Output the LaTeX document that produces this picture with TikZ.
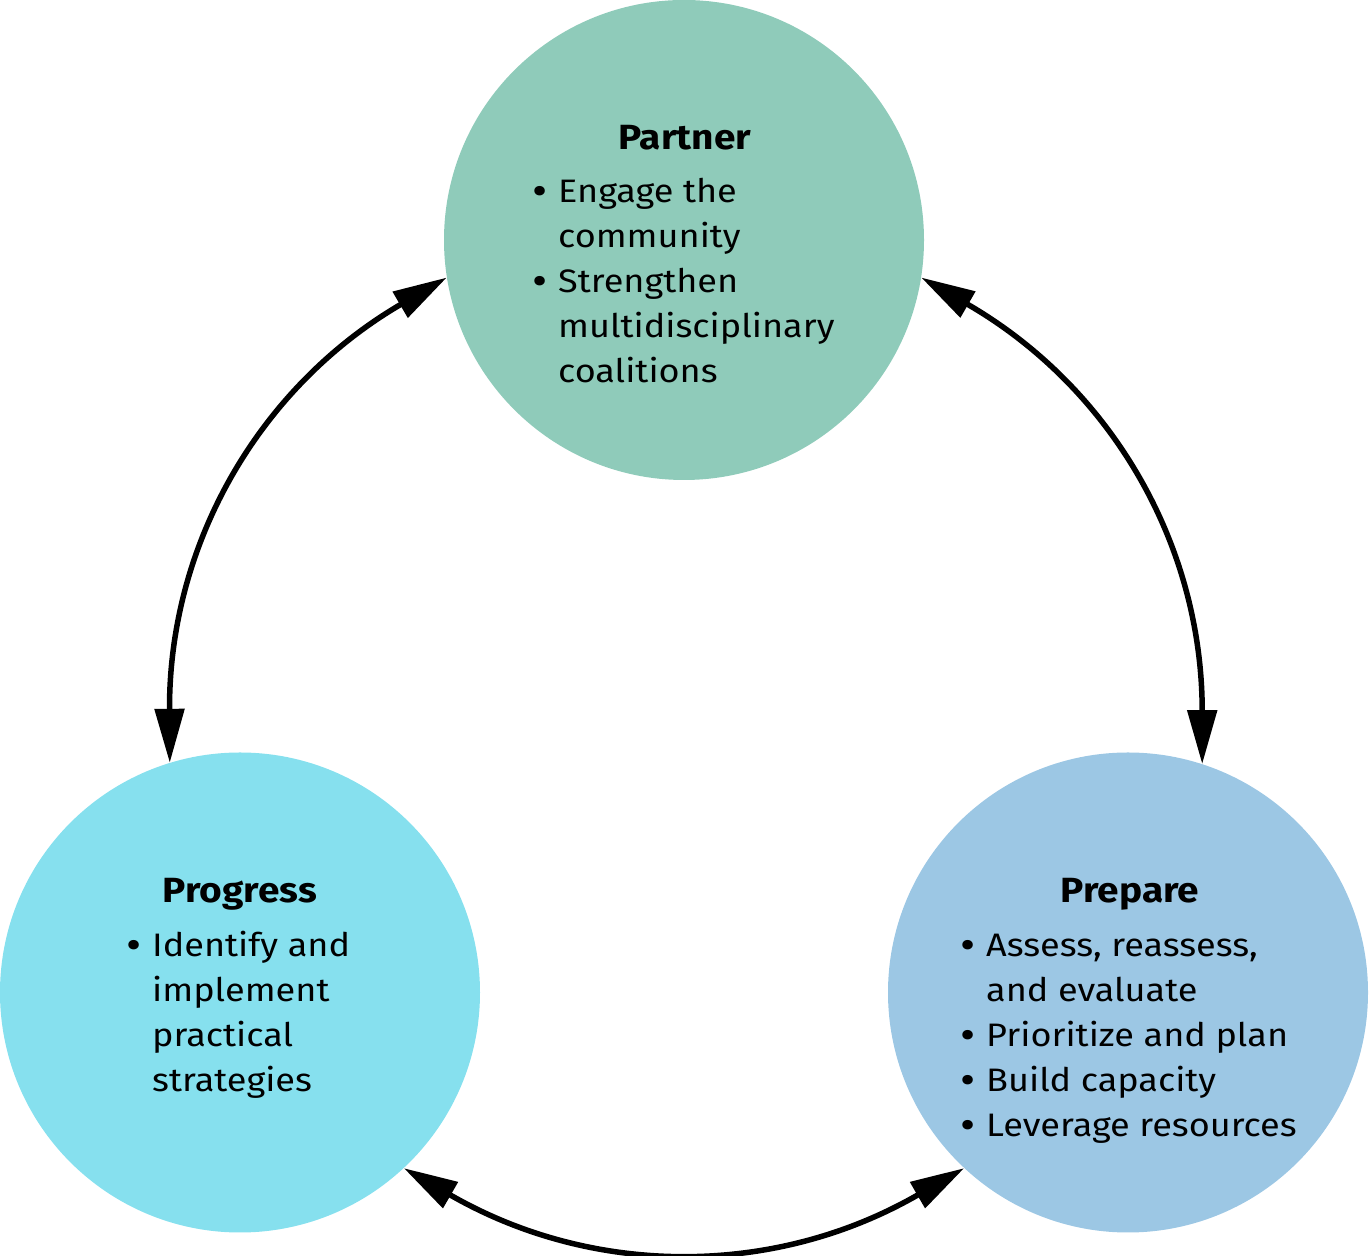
\documentclass[tikz,border=0pt]{standalone}
\usepackage{fontspec}
\setmainfont{Fira Sans}[FakeStretch=1.11]
\usetikzlibrary{arrows.meta}
\definecolor{cpartner}{RGB}{143,203,186}
\definecolor{cprogress}{RGB}{134,224,238}
\definecolor{cprepare}{RGB}{156,199,228}
\newcommand\bulitem{\makebox[36pt]{\fontsize{42}{45}\selectfont\raisebox{-2.5pt}{•}}}
\begin{document}
\begin{tikzpicture}[x=1pt,y=1pt,
  stage/.style={circle, minimum size=480pt, inner sep=0pt, draw=none},
  ttl/.style={anchor=base, inner sep=0pt, font=\fontsize{35}{42}\selectfont\bfseries},
  lst/.style={anchor=base west, inner sep=0pt, font=\fontsize{32.5}{45}\selectfont},
  link/.style={{Triangle[length=54pt,width=29pt]}-{Triangle[length=54pt,width=29pt]}, line width=5.5pt, bend right=30}
]
\useasboundingbox (0,0) rectangle (1369,1256);
\node[stage, fill=cpartner] (partner) at (684,1016) {};
\node[stage, fill=cprogress] (progress) at (240,263.5) {};
\node[stage, fill=cprepare] (prepare) at (1128,263.5) {};

\node[ttl] (partnerT) at (685,1106) {Partner};
\node[ttl] (progressT) at (240,353) {Progress};
\node[ttl] (prepareT) at (1130,353) {Prepare};

\node[lst] (partnerL) at (522,1053) {\begin{tabular}[t]{@{}l@{}l@{}}
\bulitem & Engage the\\
 & community\\
\bulitem & Strengthen\\
 & multidisciplinary\\
 & coalitions
\end{tabular}};
\node[lst] (progressL) at (116,299) {\begin{tabular}[t]{@{}l@{}l@{}}
\bulitem & Identify and\\
 & implement\\
 & practical\\
 & strategies
\end{tabular}};
\node[lst] (prepareL) at (950,299) {\begin{tabular}[t]{@{}l@{}l@{}}
\bulitem & Assess, reassess,\\
 & and evaluate\\
\bulitem & Prioritize and plan\\
\bulitem & Build capacity\\
\bulitem & Leverage resources
\end{tabular}};

\draw[link] (partner.189.2) to (progress.107.2);
\draw[link] (progress.-47.3) to (prepare.227.5);
\draw[link] (prepare.72.8) to (partner.-9.2);
\end{tikzpicture}
\end{document}
